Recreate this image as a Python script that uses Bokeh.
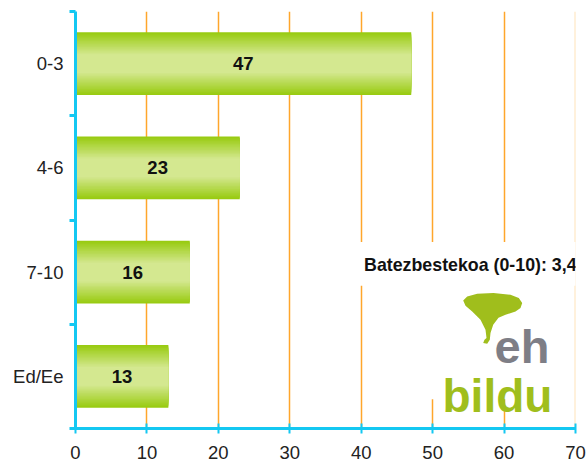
from bokeh.plotting import figure
from bokeh.models import (Range1d, FixedTicker, SingleIntervalTicker, Span, BoxAnnotation,
                          Label, PolyAnnotation, ColumnDataSource)
from bokeh.core.properties import value
from bokeh.embed import file_html
from bokeh.resources import INLINE

# ---- data ----
categories = ["0-3", "4-6", "7-10", "Ed/Ee"]
values = [47, 23, 16, 13]
x_ticks = [0, 10, 20, 30, 40, 50, 60, 70]
note_text = "Batezbestekoa (0-10): 3,4"

# ---- style ----
CYAN = "#14C8F2"
ORANGE = "#FFA62B"
DARK = (0x99, 0xCB, 0x12)
LIGHT = (0xD4, 0xE8, 0x90)
FONT = "Liberation Sans"

positions = list(range(len(categories)))
boundaries = [i - 0.5 for i in range(len(categories) + 1)]

p = figure(width=587, height=461, output_backend="svg", toolbar_location=None,
           x_range=Range1d(x_ticks[0], x_ticks[-1]),
           y_range=Range1d(len(categories) - 0.5, -0.5))
p.min_border_left = 75
p.min_border_right = 12
p.min_border_top = 11
p.min_border_bottom = 0
p.outline_line_color = None
p.background_fill_color = "white"
p.border_fill_color = "white"

# grid
p.ygrid.visible = False
p.xgrid.ticker = FixedTicker(ticks=x_ticks[1:-1])
p.xgrid.grid_line_color = ORANGE
p.xgrid.grid_line_width = 1.5
p.add_layout(Span(location=x_ticks[-1], dimension="height", line_color="#FFE3BA",
                  line_width=2, level="underlay"))

# bars with a vertical gradient (stacked centred layers)
src = ColumnDataSource(dict(y=positions, right=values, mid=[v / 2 for v in values],
                            label=[str(v) for v in values]))
n = 16
h_outer, h_inner = 0.6, 0.18
for k in range(n):
    t = k / (n - 1)
    h = h_outer - (h_outer - h_inner) * t
    c = tuple(int(round(DARK[j] + (LIGHT[j] - DARK[j]) * t)) for j in range(3))
    col = "#%02x%02x%02x" % c
    p.hbar(y="y", right="right", left=0, height=h, source=src,
           fill_color=col, line_color=None)

p.text(x="mid", y="y", text="label", source=src, text_align="center",
       text_baseline="middle", text_font=value(FONT), text_font_style="bold",
       text_font_size="18.5px", text_color="#111111")

# axes
xa = p.xaxis[0]
xa.ticker = SingleIntervalTicker(interval=10)
xa.axis_line_color = CYAN
xa.axis_line_width = 3
xa.major_tick_line_color = CYAN
xa.major_tick_line_width = 2
xa.major_tick_in = 5
xa.major_tick_out = 5
xa.minor_tick_line_color = None
xa.major_label_text_font = FONT
xa.major_label_text_font_size = "18.5px"
xa.major_label_text_color = "#222222"
xa.major_label_standoff = 12

ya = p.yaxis[0]
ya.ticker = FixedTicker(ticks=positions, minor_ticks=boundaries)
ya.major_label_overrides = {i: c for i, c in zip(positions, categories)}
ya.axis_line_color = CYAN
ya.axis_line_width = 3
ya.major_tick_line_color = None
ya.major_tick_in = 0
ya.major_tick_out = 0
ya.minor_tick_line_color = CYAN
ya.minor_tick_line_width = 3
ya.minor_tick_in = 0
ya.minor_tick_out = 6
ya.major_label_text_font = FONT
ya.major_label_text_font_size = "18.5px"
ya.major_label_text_color = "#222222"
ya.major_label_standoff = 6

# note with white background
p.add_layout(BoxAnnotation(left=39.5, right=70.5, top=1.71, bottom=2.13,
                           fill_color="white", fill_alpha=1.0, line_color=None))
p.add_layout(Label(x=40.4, y=1.93, text=note_text, text_font=FONT,
                   text_font_style="bold", text_font_size="17.8px",
                   text_color="#111111", text_baseline="middle"))

# logo (decoration)
p.add_layout(BoxAnnotation(left=49.3, right=69.6, top=2.12, bottom=3.22,
                           fill_color="white", fill_alpha=1.0, line_color=None))


def px_to_data(px, py):
    return (px - 75) / 500 * 70, -0.5 + (py - 11) / 104.5


blob_px = [(462.7, 300.7), (466.7, 296.7), (476.7, 294), (493, 293.3), (510, 295),
           (518.3, 298.3), (521.7, 303.3), (520, 308.3), (515, 311.7), (505, 315),
           (498, 318), (492.7, 325), (490, 333.3), (489.3, 340), (486.7, 344),
           (482.7, 343.3), (484, 340), (486, 338.3), (485, 330), (480, 320),
           (471.7, 311.7), (465, 306)]
bx, by = zip(*[px_to_data(a, b) for a, b in blob_px])
p.add_layout(PolyAnnotation(xs=list(bx), ys=list(by), fill_color="#A0BE1C",
                            fill_alpha=1.0, line_color=None))
ex, ey = px_to_data(494, 347)
p.add_layout(Label(x=ex, y=ey, text="eh", text_font=FONT, text_font_style="bold",
                   text_font_size="47px", text_color="#7E7E86",
                   text_baseline="alphabetic"))
bdx, bdy = px_to_data(442, 396)
p.add_layout(Label(x=bdx, y=bdy, text="bildu", text_font=FONT,
                   text_font_style="bold", text_font_size="46px", text_color="#A0BE1C",
                   text_baseline="alphabetic"))

open("out.html", "w").write(file_html(p, INLINE))
